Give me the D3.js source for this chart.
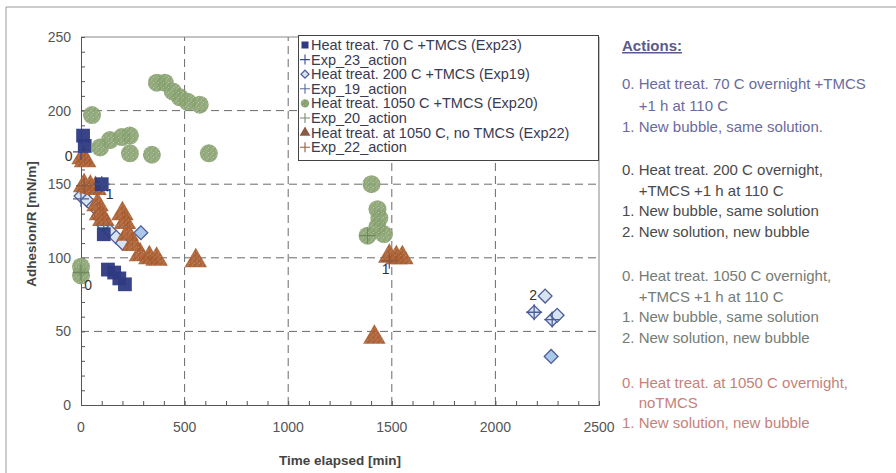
<!DOCTYPE html>
<html>
<head>
<meta charset="utf-8">
<script src="https://cdn.jsdelivr.net/npm/d3@7"></script>
<style>
  html, body { margin: 0; padding: 0; background: #fff; }
  svg { display: block; font-family: "Liberation Sans", Arial, sans-serif; }
</style>
</head>
<body>
<svg id="chart" width="896" height="473"></svg>
<script>
// ---- data: [time elapsed (min), adhesion/R (mN/m)] ----
const exp23 = [[10,183],[18,176],[100,150],[110,116],[130,92],[160,90],[185,86],[212,82]];
const exp19 = [[0,142],[30,139],[60,135],[85,128],[110,122],[140,118],[170,114],[200,110],[289,117],
               [2187,63],[2240,74],[2274,58],[2298,61],[2269,33]];
const exp20 = [[0,94],[0,88],[53,197],[92,175],[140,180],[197,182],[236,183],[236,171],[342,170],
               [366,219],[405,219],[443,213],[477,209],[515,206],[573,204],[617,171],
               [1402,150],[1431,133],[1440,127],[1430,121],[1383,115],[1462,116]];
const exp22 = [[8,168],[20,166],[15,149],[45,148],[70,147],[80,136],[92,130],[108,126],
               [200,130],[212,124],[225,116],[250,109],[285,102],[330,100],[365,99],[554,98],
               [1416,46],[1488,101],[1522,100],[1551,100]];

// action markers per experiment
const exp23Action = [[0,172],[100,150]];
const exp19Action = [[0,140],[110,122],[2187,63],[2274,58]];
const exp20Action = [[0,90],[1383,115]];
const exp22Action = [[15,149],[1488,98]];

// action numbers written next to the points
const actionLabels = [
  {t:-60, v:166, text:"0"},
  {t:138, v:140, text:"1"},
  {t:34,  v:78,  text:"0"},
  {t:1470, v:89, text:"1"},
  {t:2182, v:71, text:"2"}
];

const xTicks = [0, 500, 1000, 1500, 2000, 2500];
const yTicks = [0, 50, 100, 150, 200, 250];

const legendItems = [
  {label:"Heat treat. 70 C +TMCS (Exp23)", kind:"square"},
  {label:"Exp_23_action", kind:"cross", color:"#3b4a8a"},
  {label:"Heat treat. 200 C +TMCS (Exp19)", kind:"diamond"},
  {label:"Exp_19_action", kind:"cross", color:"#5a6a9a"},
  {label:"Heat treat. 1050 C +TMCS (Exp20)", kind:"circle"},
  {label:"Exp_20_action", kind:"cross", color:"#7a8a70"},
  {label:"Heat treat. at 1050 C, no TMCS (Exp22)", kind:"triangle"},
  {label:"Exp_22_action", kind:"cross", color:"#9a5a40"}
];

const actionGroups = [
  {color:"#6a6a9c", lines:["0. Heat treat. 70 C overnight +TMCS", "    +1 h at 110 C", "1. New bubble, same solution."]},
  {color:"#4a4a4a", lines:["0. Heat treat. 200 C overnight,", "    +TMCS +1 h at 110 C", "1. New bubble, same solution", "2. New solution, new bubble"]},
  {color:"#747c74", lines:["0. Heat treat. 1050 C overnight,", "    +TMCS +1 h at 110 C", "1. New bubble, same solution", "2. New solution, new bubble"]},
  {color:"#c4827a", lines:["0. Heat treat. at 1050 C overnight,", "    noTMCS", "1. New solution, new bubble"]}
];

const COL = {
  sq: "#2e3a82",
  diaStroke: "#4c5c98",
  diaFill: "#d6e4f2",
  circ: "#86a06e",
  tri: "#a85a2c"
};

const svg = d3.select("#chart");

// speckled fills for circles and triangles
const defs = svg.append("defs");
function speckle(id, base) {
  const p = defs.append("pattern").attr("id", id).attr("patternUnits", "userSpaceOnUse")
    .attr("width", 5).attr("height", 5);
  p.append("rect").attr("width", 5).attr("height", 5).attr("fill", base);
  [[1,1],[3.5,2.5],[2,4]].forEach(([cx, cy]) =>
    p.append("circle").attr("cx", cx).attr("cy", cy).attr("r", 0.45).attr("fill", "#fff").attr("opacity", 0.8));
}
speckle("spG", COL.circ);
speckle("spT", COL.tri);

// outer frame
svg.append("path").attr("d", "M6,473 V7 H896").attr("fill", "none").attr("stroke", "#999").attr("stroke-width", 1);

const x = d3.scaleLinear().domain([0, 2500]).range([81, 599]);
const y = d3.scaleLinear().domain([0, 250]).range([405, 37]);

// grid
const grid = svg.append("g").attr("stroke", "#6a6a6a").attr("stroke-dasharray", "8,5").attr("stroke-width", 1);
grid.selectAll("line.v").data(xTicks.slice(1, -1)).join("line")
  .attr("x1", d => x(d)).attr("x2", d => x(d)).attr("y1", y(0)).attr("y2", y(250));
grid.selectAll("line.h").data(yTicks.slice(1, -1)).join("line")
  .attr("x1", x(0)).attr("x2", x(2500)).attr("y1", d => y(d)).attr("y2", d => y(d));

// plot frame (top/right)
svg.append("path").attr("d", `M${x(0)},${y(250)} H${x(2500)} V${y(0)}`)
  .attr("fill", "none").attr("stroke", "#888").attr("stroke-width", 1);

// axes
const xAxis = d3.axisBottom(x).tickValues(d3.range(0, 2501, 100)).tickSize(-4).tickFormat("");
const yAxis = d3.axisLeft(y).tickValues(d3.range(0, 251, 10)).tickSize(-4).tickFormat("");
const gx = svg.append("g").attr("transform", `translate(0,${y(0)})`).call(xAxis);
const gy = svg.append("g").attr("transform", `translate(${x(0)},0)`).call(yAxis);
[gx, gy].forEach(g => {
  g.select(".domain").attr("stroke", "#555");
  g.selectAll(".tick line").attr("stroke", "#555");
});

// tick labels
svg.append("g").selectAll("text").data(xTicks).join("text")
  .attr("x", d => x(d)).attr("y", 432).attr("text-anchor", "middle")
  .attr("font-size", 14).attr("fill", "#555").text(d => d);
svg.append("g").selectAll("text").data(yTicks).join("text")
  .attr("x", 71).attr("y", d => y(d) + 5).attr("text-anchor", "end")
  .attr("font-size", 14).attr("fill", "#555").text(d => d);

// axis titles
svg.append("text").attr("x", 340).attr("y", 465).attr("text-anchor", "middle")
  .attr("font-size", 13.5).attr("font-weight", "bold").attr("fill", "#444").text("Time elapsed [min]");
svg.append("text").attr("transform", "translate(36,224) rotate(-90)").attr("text-anchor", "middle")
  .attr("font-size", 13.5).attr("font-weight", "bold").attr("fill", "#444").text("Adhesion/R [mN/m]");

// marker shapes
const sym = (type, size) => d3.symbol().type(type).size(size)();
const plot = svg.append("g");

function crosses(data, color) {
  plot.append("g").selectAll("path").data(data).join("path")
    .attr("transform", d => `translate(${x(d[0])},${y(d[1])})`)
    .attr("d", "M-8,0H8M0,-8V8").attr("stroke", color).attr("stroke-width", 1.3).attr("fill", "none");
}

// diamonds
plot.append("g").selectAll("path").data(exp19).join("path")
  .attr("transform", d => `translate(${x(d[0])},${y(d[1])}) rotate(45)`)
  .attr("d", sym(d3.symbolSquare, 95))
  .attr("fill", (d, i) => (i === 8 || i === 13) ? "#a9c8ea" : COL.diaFill)
  .attr("stroke", COL.diaStroke).attr("stroke-width", 1.3);
crosses(exp19Action, "#4c5c98");

// triangles
plot.append("g").selectAll("path").data(exp22).join("path")
  .attr("transform", d => `translate(${x(d[0])},${y(d[1])})`)
  .attr("d", sym(d3.symbolTriangle, 220))
  .attr("fill", "url(#spT)").attr("opacity", 0.95);
crosses(exp22Action, "#8a5a42");

// squares
plot.append("g").selectAll("path").data(exp23).join("path")
  .attr("transform", d => `translate(${x(d[0])},${y(d[1])})`)
  .attr("d", sym(d3.symbolSquare, 190))
  .attr("fill", COL.sq).attr("opacity", 0.95);
crosses(exp23Action, "#3b4a8a");

// circles
plot.append("g").selectAll("circle").data(exp20).join("circle")
  .attr("cx", d => x(d[0])).attr("cy", d => y(d[1])).attr("r", 9)
  .attr("fill", "url(#spG)").attr("opacity", 0.92);
crosses(exp20Action, "#6f8a60");

// action numbers
plot.append("g").selectAll("text").data(actionLabels).join("text")
  .attr("x", d => x(d.t)).attr("y", d => y(d.v)).attr("text-anchor", "middle")
  .attr("font-size", 14).attr("fill", "#333").text(d => d.text);

// legend
const lg = svg.append("g");
lg.append("rect").attr("x", 298.5).attr("y", 35.5).attr("width", 300).attr("height", 125)
  .attr("fill", "#fff").attr("stroke", "#444").attr("stroke-width", 1);
const rows = lg.selectAll("g.row").data(legendItems).join("g")
  .attr("transform", (d, i) => `translate(305,${45 + i * 14.6})`);
rows.each(function(d) {
  const g = d3.select(this);
  if (d.kind === "square") g.append("rect").attr("x", -3.5).attr("y", -3.5).attr("width", 7).attr("height", 7).attr("fill", COL.sq);
  else if (d.kind === "diamond") g.append("path").attr("d", sym(d3.symbolSquare, 32)).attr("transform", "rotate(45)")
    .attr("fill", COL.diaFill).attr("stroke", COL.diaStroke).attr("stroke-width", 1.2);
  else if (d.kind === "circle") g.append("circle").attr("r", 4.2).attr("fill", "url(#spG)");
  else if (d.kind === "triangle") g.append("path").attr("d", sym(d3.symbolTriangle, 50)).attr("fill", "#8a5a44");
  else g.append("path").attr("d", "M-5,0H5M0,-5V5").attr("stroke", d.color).attr("stroke-width", 1.1);
  g.append("text").attr("x", 6).attr("y", 5).attr("font-size", 14.5).attr("fill", "#3a3a50").text(d.label);
});

// actions panel
const ap = svg.append("g").attr("font-size", 15);
ap.append("text").attr("x", 622).attr("y", 51).attr("font-weight", "bold").attr("fill", "#5a5a8c")
  .attr("text-decoration", "underline").text("Actions:");
const groupTops = [89, 175, 281, 388];
const lineGap = [21.5, 20.5, 20.5, 20];
actionGroups.forEach((grp, gi) => {
  ap.append("g").selectAll("text").data(grp.lines).join("text")
    .attr("x", 622).attr("y", (d, i) => groupTops[gi] + i * lineGap[gi])
    .attr("fill", grp.color).attr("xml:space", "preserve").style("white-space", "pre").text(d => d);
});
</script>
</body>
</html>
